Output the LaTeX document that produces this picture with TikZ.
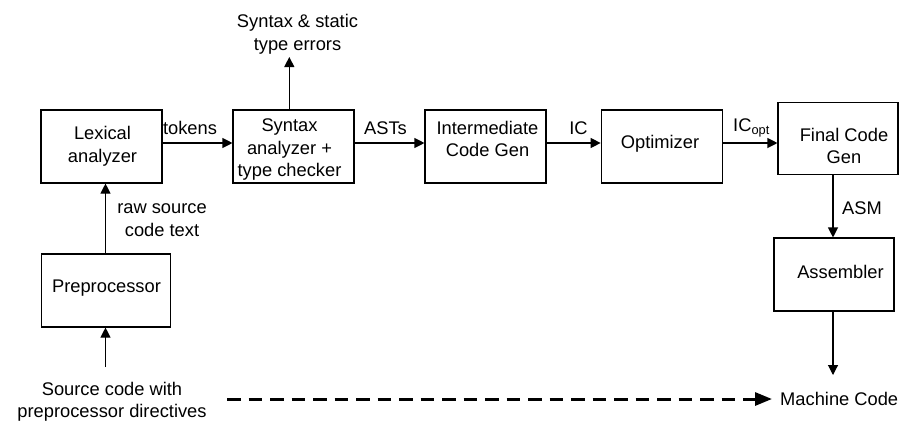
\documentclass[tikz,border=0pt]{standalone}
\usepackage{fontspec}
\setmainfont{Liberation Sans}
\usetikzlibrary{arrows.meta}
\begin{document}
\begin{tikzpicture}[x=1pt,y=-1pt,
  every node/.style={font=\fontsize{18.3}{22.5}\selectfont, inner sep=0pt, align=center},
  stage/.style={draw, line width=1.1pt, minimum width=#1, minimum height=73pt},
  stage/.default=121pt,
  flow/.style={line width=1.1pt, -{Triangle[length=10pt,width=10pt]}},
  bigflow/.style={line width=3pt, dash pattern=on 13.5pt off 8pt, -{Triangle[length=17pt,width=13pt]}}]
\useasboundingbox (0,0) rectangle (902,421);

% stage boxes
\node[stage] (lex) at (101.5,146.5) {};
\node[stage] (syn) at (293.5,146.5) {};
\node[stage] (icg) at (485.5,146.5) {};
\node[stage] (opt) at (661.7,146.5) {};
\node[stage=120pt, minimum height=71.5pt] (fcg) at (838,138.5) {};
\node[stage=120pt] (asm) at (834,274.5) {};
\node[stage=128.5pt] (pre) at (106,290.5) {};

% stage captions
\node (lexT) at (102.5,146.5) {Lexical\\analyzer};
\node (synT) at (289.5,150) {Syntax\\analyzer +\\type checker};
\node (icgT) at (487.5,139) {Intermediate\\Code Gen};
\node (optT) at (660,144) {Optimizer};
\node (fcgT) at (844,146) {Final Code\\Gen};
\node (asmT) at (840.5,272) {Assembler};
\node (preT) at (106.5,288) {Preprocessor};

% inputs and outputs
\node (err) at (297.5,34.5) {Syntax \& static\\type errors};
\node (src) at (112,402) {Source code with\\preprocessor directives};
\node[anchor=west] (mc) at (780,399) {Machine Code};
\coordinate (errIn) at (289.3,57);
\coordinate (srcOut) at (105.5,367);
\coordinate (dashS) at (227,399);
\coordinate (mcIn) at (772,399);
\coordinate (asmOut) at (833,375);

% pipeline connectors
\draw[flow] (lex.east |- 0,143) -- (syn.west |- 0,143);
\draw[flow] (syn.east |- 0,143) -- (icg.west |- 0,143);
\draw[flow] (icg.east |- 0,143) -- (opt.west |- 0,143);
\draw[flow] (opt.east |- 0,143) -- (fcg.west |- 0,143);
\draw[flow] (errIn |- syn.north) -- (errIn);
\draw[flow] (srcOut |- pre.north) -- (srcOut |- lex.south);
\draw[flow] (srcOut) -- (srcOut |- pre.south);
\draw[flow] (asmOut |- fcg.south) -- (asmOut |- asm.north);
\draw[flow] (asmOut |- asm.south) -- (asmOut);
\draw[bigflow] (dashS) -- (mcIn);

% connector labels
\node (tokL) at (190,128) {tokens};
\node (astL) at (385.5,128) {ASTs};
\node (icL) at (578.5,128) {IC};
\node[anchor=west] (icoL) at (733,128) {IC\textsubscript{opt}};
\node (asmL) at (862,208) {ASM};
\node (rawL) at (162,220) {raw source\\code text};
\end{tikzpicture}
\end{document}
